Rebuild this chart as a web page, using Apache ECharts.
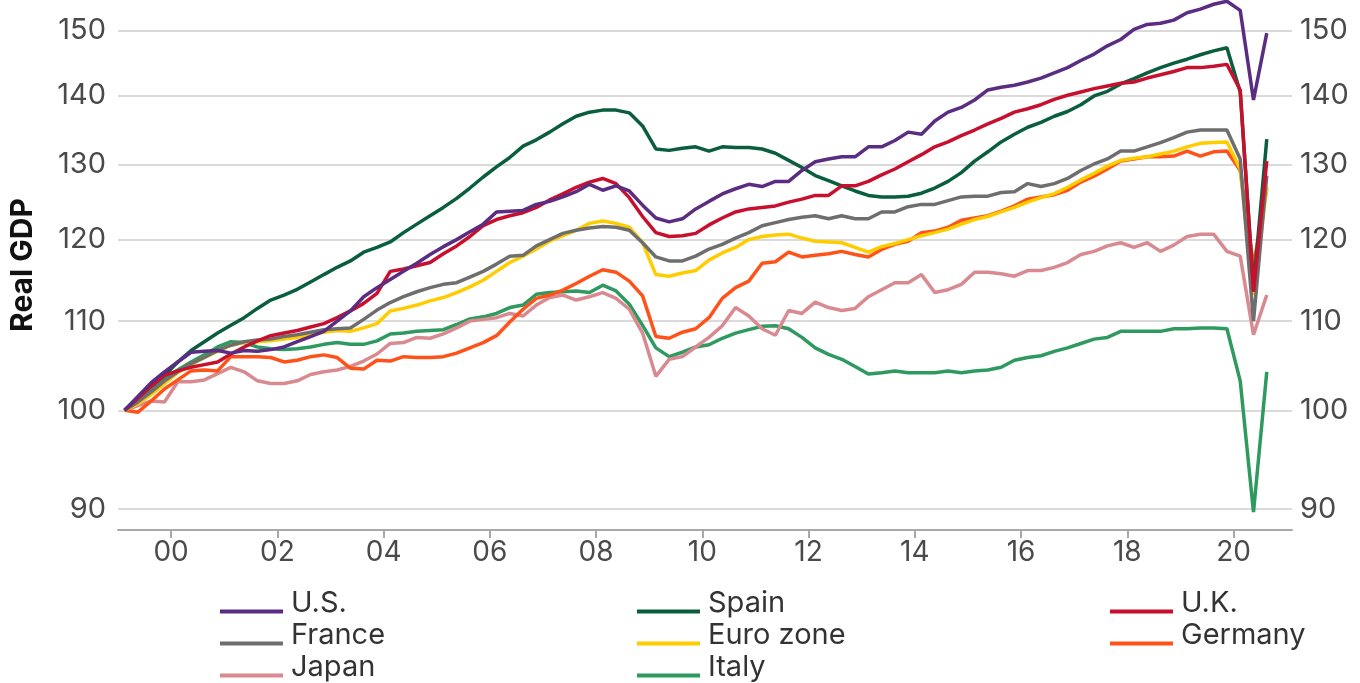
<!DOCTYPE html>
<html>
<head>
<meta charset="utf-8">
<script src="https://cdn.jsdelivr.net/npm/echarts@6/dist/echarts.min.js"></script>
<style>
  html, body { margin: 0; padding: 0; background: #fff; }
  #chart { width: 1360px; height: 683px; }
</style>
</head>
<body>
<div id="chart"></div>
<script>
// quarterly real GDP, 1999Q1 = 100, 1999Q1 .. 2020Q3 (one row per year)
const usData = [
  100, 101.5, 103, 104.2,
  105.3, 106.4, 106.5, 106.6,
  106.3, 106.6, 106.5, 106.7,
  107.0, 107.6, 108.2, 108.8,
  110.0, 111.2, 112.9, 114.0,
  115.0, 116.0, 117.0, 118.1,
  119.1, 120.0, 121.0, 122.0,
  123.6, 123.7, 123.8, 124.6,
  125.0, 125.6, 126.3, 127.3,
  126.5, 127.1, 126.4, 124.5,
  122.8, 122.3, 122.7, 124.0,
  125.0, 126.0, 126.7, 127.3,
  127.0, 127.7, 127.7, 129.2,
  130.4, 130.8, 131.1, 131.1,
  132.5, 132.5, 133.4, 134.6,
  134.3, 136.2, 137.5, 138.2,
  139.3, 140.8, 141.2, 141.5,
  142.0, 142.6, 143.4, 144.2,
  145.3, 146.3, 147.6, 148.6,
  150.2, 151.0, 151.2, 151.7,
  152.9, 153.5, 154.3, 154.8,
  153.3, 139.3, 149.6
];
const spainData = [
  100, 101.4, 102.7, 103.8,
  105.3, 106.6, 107.6, 108.6,
  109.5, 110.4, 111.5, 112.5,
  113.1, 113.8, 114.7, 115.6,
  116.5, 117.3, 118.4, 119.0,
  119.7, 120.9, 122.0, 123.1,
  124.2, 125.4, 126.8, 128.3,
  129.7, 131.0, 132.6, 133.5,
  134.6, 135.8, 136.9, 137.5,
  137.8, 137.8, 137.4, 135.5,
  132.2, 132.0, 132.3, 132.5,
  131.9, 132.5, 132.4, 132.4,
  132.2, 131.6, 130.6, 129.6,
  128.5, 127.8, 127.1, 126.4,
  125.8, 125.6, 125.6, 125.7,
  126.1, 126.8, 127.7, 128.9,
  130.5, 131.8, 133.2, 134.3,
  135.3, 136.0, 136.9, 137.6,
  138.6, 139.9, 140.6, 141.7,
  142.5, 143.4, 144.2, 144.9,
  145.5, 146.2, 146.8, 147.3,
  140.5, 114.0, 133.6
];
const ukData = [
  100, 101.3, 102.6, 103.8,
  104.3, 104.7, 105.0, 105.3,
  106.2, 107.0, 107.7, 108.3,
  108.6, 108.9, 109.3, 109.7,
  110.4, 111.2, 112.1, 113.3,
  116.0, 116.3, 116.7, 117.1,
  118.2, 119.2, 120.4, 121.8,
  122.6, 123.1, 123.5, 124.2,
  125.2, 126.0, 126.9, 127.6,
  128.1, 127.4, 125.5, 123.0,
  120.9, 120.4, 120.5, 120.8,
  121.9, 122.8, 123.6, 124.0,
  124.2, 124.4, 124.9, 125.3,
  125.8, 125.8, 127.1, 127.1,
  127.7, 128.6, 129.4, 130.4,
  131.4, 132.5, 133.2, 134.1,
  134.9, 135.8, 136.6, 137.5,
  138.0, 138.6, 139.4, 140.0,
  140.5, 141.0, 141.4, 141.8,
  142.0, 142.6, 143.1, 143.6,
  144.2, 144.2, 144.4, 144.7,
  140.8, 113.5, 130.5
];
const franceData = [
  100, 100.9, 102.0, 103.2,
  104.2, 105.1, 105.8, 106.6,
  107.2, 107.6, 107.8, 107.9,
  108.2, 108.4, 108.7, 109.0,
  109.1, 109.2, 110.2, 111.3,
  112.2, 112.9, 113.5, 114.0,
  114.4, 114.6, 115.3, 116.0,
  116.9, 117.9, 118.0, 119.2,
  120.0, 120.8, 121.2, 121.5,
  121.7, 121.6, 121.2, 119.6,
  117.8, 117.3, 117.3, 117.9,
  118.8, 119.4, 120.2, 120.9,
  121.8, 122.2, 122.6, 122.9,
  123.1, 122.7, 123.1, 122.7,
  122.7, 123.6, 123.6, 124.3,
  124.6, 124.6, 125.1, 125.6,
  125.7, 125.7, 126.2, 126.3,
  127.4, 127.0, 127.4, 128.1,
  129.2, 130.1, 130.8, 131.9,
  131.9, 132.5, 133.1, 133.8,
  134.6, 134.9, 134.9, 134.9,
  130.8, 110.0, 128.5
];
const euroData = [
  100, 100.7, 101.7, 102.9,
  104.1, 105.0, 105.8, 106.5,
  107.2, 107.5, 107.6, 107.7,
  107.9, 108.1, 108.4, 108.7,
  108.9, 108.8, 109.2, 109.7,
  111.2, 111.5, 111.9, 112.4,
  112.8, 113.4, 114.1, 114.9,
  116.0, 117.1, 117.9, 118.8,
  119.8, 120.5, 121.2, 122.1,
  122.4, 122.1, 121.6, 119.6,
  115.6, 115.4, 115.8, 116.1,
  117.4, 118.3, 119.0, 120.0,
  120.4, 120.6, 120.7, 120.2,
  119.8, 119.7, 119.6, 119.0,
  118.4, 119.1, 119.5, 120.0,
  120.5, 120.9, 121.35, 122.0,
  122.6, 123.0, 123.6, 124.2,
  124.9, 125.5, 126.05, 126.9,
  127.9, 128.8, 129.8, 130.6,
  130.9, 131.1, 131.5, 131.9,
  132.5, 133.0, 133.1, 133.2,
  129.4, 113.1, 127.0
];
const germanyData = [
  100, 99.8, 101.0, 102.3,
  103.3, 104.3, 104.4, 104.3,
  105.9, 105.9, 105.9, 105.8,
  105.3, 105.5, 105.9, 106.1,
  105.8, 104.6, 104.5, 105.5,
  105.4, 105.9, 105.8, 105.8,
  105.9, 106.3, 106.9, 107.5,
  108.3, 109.9, 111.4, 112.7,
  113.1, 113.7, 114.5, 115.4,
  116.2, 115.9, 114.8, 113.0,
  108.2, 108.0, 108.7, 109.1,
  110.4, 112.7, 114.0, 114.8,
  117.0, 117.2, 118.4, 117.8,
  118.0, 118.2, 118.5, 118.1,
  117.8, 118.75, 119.4, 119.8,
  120.9, 121.1, 121.6, 122.5,
  122.8, 123.1, 123.7, 124.4,
  125.3, 125.6, 125.9, 126.5,
  127.6, 128.4, 129.4, 130.5,
  130.8, 131.1, 131.1, 131.2,
  131.9, 131.2, 131.8, 131.9,
  129.2, 116.7, 126.7
];
const japanData = [
  100, 100.5, 101.0, 100.9,
  103.1, 103.1, 103.3, 104.0,
  104.7, 104.2, 103.2, 102.9,
  102.9, 103.2, 103.9, 104.2,
  104.4, 104.8, 105.4, 106.2,
  107.4, 107.5, 108.1, 108.0,
  108.5, 109.2, 110.0, 110.2,
  110.4, 110.9, 110.6, 111.9,
  112.8, 113.1, 112.5, 112.9,
  113.4, 112.7, 111.4, 108.6,
  103.7, 105.6, 105.9, 107.0,
  108.1, 109.45, 111.6, 110.6,
  109.1, 108.35, 111.25, 110.9,
  112.25, 111.6, 111.25, 111.5,
  112.9, 113.75, 114.6, 114.6,
  115.6, 113.4, 113.75, 114.4,
  115.9, 115.9, 115.7, 115.4,
  116.1, 116.1, 116.5, 117.1,
  118.1, 118.5, 119.2, 119.6,
  119.0, 119.6, 118.5, 119.3,
  120.4, 120.7, 120.7, 118.5,
  117.9, 108.4, 113.1
];
const italyData = [
  100, 101.0, 102.4, 103.5,
  104.4, 105.3, 106.1, 107.0,
  107.6, 107.5, 107.0, 106.8,
  106.7, 106.8, 107.0, 107.3,
  107.5, 107.3, 107.3, 107.7,
  108.5, 108.6, 108.8, 108.9,
  109.0, 109.6, 110.25, 110.5,
  110.9, 111.6, 111.9, 113.2,
  113.4, 113.5, 113.6, 113.4,
  114.3, 113.6, 112.0, 109.5,
  106.9, 105.9, 106.4, 107.0,
  107.25, 108.0, 108.6, 109.0,
  109.4, 109.45, 109.1, 108.1,
  106.9, 106.15, 105.6, 104.8,
  103.95, 104.1, 104.3, 104.1,
  104.1, 104.1, 104.3, 104.1,
  104.3, 104.4, 104.7, 105.5,
  105.8, 106.0, 106.5, 106.9,
  107.4, 107.9, 108.1, 108.8,
  108.8, 108.8, 108.8, 109.1,
  109.1, 109.2, 109.2, 109.1,
  103.2, 89.7, 104.2
];

const yTicks = [90, 100, 110, 120, 130, 140, 150];
const xTicks = [2000, 2002, 2004, 2006, 2008, 2010, 2012, 2014, 2016, 2018, 2020];

const countries = [
  { name: 'U.S.', color: '#5b2d82', data: usData },
  { name: 'Spain', color: '#0a5e3e', data: spainData },
  { name: 'U.K.', color: '#c8102e', data: ukData },
  { name: 'France', color: '#6e6e6e', data: franceData },
  { name: 'Euro zone', color: '#ffcc00', data: euroData },
  { name: 'Germany', color: '#ff5219', data: germanyData },
  { name: 'Japan', color: '#d98a90', data: japanData },
  { name: 'Italy', color: '#2e9a5f', data: italyData },
];
// drawing order, last on top
const drawOrder = ['Italy', 'Japan', 'Germany', 'Euro zone', 'France', 'Spain', 'U.K.', 'U.S.'];

const font = 'Inter';

// quarter mid-points on the year axis
function quarterX(i) {
  return 1999 + i / 4 + 0.125;
}

function makeYAxis(position) {
  const left = position === 'left';
  return {
    type: 'log',
    logBase: 10,
    position: position,
    min: 88,
    max: 155,
    name: left ? 'Real GDP' : '',
    nameLocation: 'middle',
    nameRotate: 90,
    nameGap: 80,
    nameTextStyle: { fontFamily: font, fontWeight: 'bold', fontSize: 30, color: '#111' },
    axisLine: { show: false },
    axisTick: { show: false, customValues: yTicks },
    axisLabel: {
      customValues: yTicks,
      margin: left ? 12 : 8,
      fontFamily: font,
      fontSize: 29,
      color: '#4a4a4a',
      formatter: (v) => String(Math.round(v)),
    },
    splitLine: {
      show: left,
      lineStyle: { color: '#dadada', width: 2 },
    },
  };
}

// bar sits in the lower part of the icon box, below the text middle
const legendIcon = 'path://M0,0 L63,0 L63,0.01 Z M0,16 L63,16 L63,20 L0,20 Z';

function makeLegend(names, left) {
  return {
    orient: 'vertical',
    left: left,
    top: 589,
    height: 100,
    padding: 0,
    itemGap: 3,
    itemWidth: 63,
    itemHeight: 20,
    icon: legendIcon,
    itemStyle: { borderWidth: 0 },
    data: names,
    textStyle: {
      fontFamily: font,
      fontSize: 29,
      color: '#333',
      padding: [0, 0, 0, 3],
    },
  };
}

const chart = echarts.init(document.getElementById('chart'), null, { renderer: 'canvas' });

const option = {
  animation: false,
  backgroundColor: '#fff',
  grid: { left: 117, right: 68, top: 0, bottom: 153 },
  xAxis: {
    type: 'value',
    min: 1999,
    max: 2021.1,
    axisLine: { show: true, lineStyle: { color: '#a8a8a8', width: 2 } },
    axisTick: { show: true, customValues: xTicks, length: 8, lineStyle: { color: '#a8a8a8', width: 2 } },
    axisLabel: {
      customValues: xTicks,
      margin: 9,
      fontFamily: font,
      fontSize: 28,
      color: '#4a4a4a',
      formatter: (v) => String(Math.round(v) % 100).padStart(2, '0'),
    },
    splitLine: { show: false },
  },
  yAxis: [makeYAxis('left'), makeYAxis('right')],
  legend: [
    makeLegend(['U.S.', 'France', 'Japan'], 220),
    makeLegend(['Spain', 'Euro zone', 'Italy'], 637),
    makeLegend(['U.K.', 'Germany'], 1110),
  ],
  series: drawOrder.map((name) => {
    const c = countries.find((d) => d.name === name);
    return {
      name: c.name,
      type: 'line',
      yAxisIndex: 0,
      showSymbol: false,
      symbol: 'none',
      color: c.color,
      lineStyle: { color: c.color, width: 3.5 },
      data: c.data.map((v, i) => [quarterX(i), v]),
    };
  }),
};

chart.setOption(option);
</script>
</body>
</html>
